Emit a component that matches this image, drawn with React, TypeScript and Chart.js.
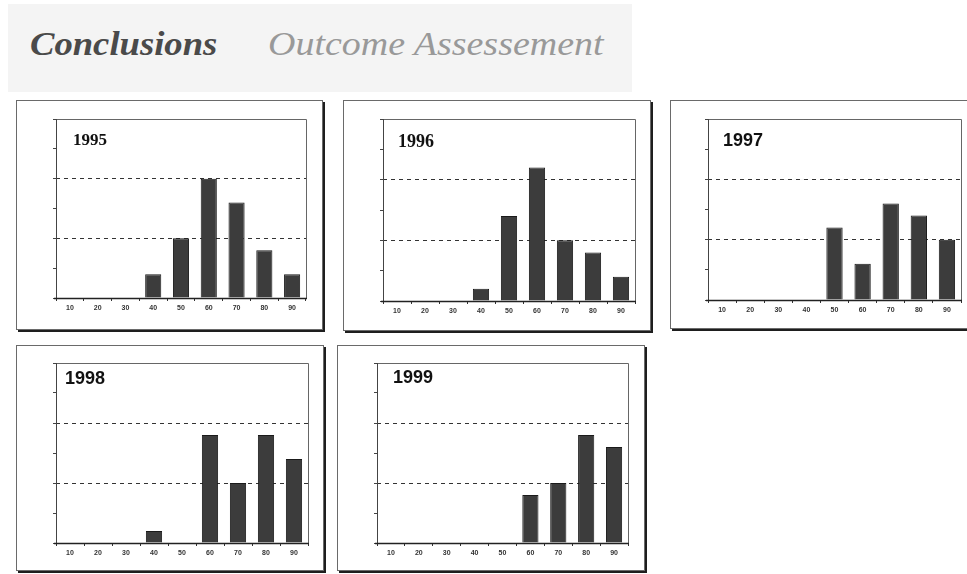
import React, { useEffect, useRef } from "react";
import { Chart, registerables } from "chart.js";
Chart.register(...registerables);

// ---- data ----
const categories = ["10", "20", "30", "40", "50", "60", "70", "80", "90"];
const years = ["1995", "1996", "1997", "1998", "1999"];
const values1995 = [0, 0, 0, 4, 10, 20, 16, 8, 4];
const values1996 = [0, 0, 0, 2, 14, 22, 10, 8, 4];
const values1997 = [0, 0, 0, 0, 12, 6, 16, 14, 10];
const values1998 = [0, 0, 0, 2, 0, 18, 10, 18, 14];
const values1999 = [0, 0, 0, 0, 0, 8, 10, 18, 16];
const seriesByYear = [values1995, values1996, values1997, values1998, values1999];
const yMin = 0;
const yMax = 30;
const yStep = 5;
const dashedAt = [10, 20];
const headerMain = "Conclusions";
const headerSub = "Outcome Assessement";

// ---- layout (page px) ----
type Layout = {
  box: [number, number, number, number];
  plot: [number, number, number, number];
  label: [number, number];
  font: string;
};
const layouts: Layout[] = [
  { box: [16, 100, 307, 230], plot: [56, 119, 306, 298], label: [73, 145], font: "bold 17px 'Liberation Serif', serif" },
  { box: [343, 100, 308, 231], plot: [383, 119, 635, 301], label: [398, 147], font: "bold 18px 'Liberation Serif', serif" },
  { box: [670, 100, 310, 229], plot: [708, 119, 961, 300], label: [723, 146], font: "bold 18px 'Liberation Sans', Arial, sans-serif" },
  { box: [16, 345, 308, 226], plot: [56, 363, 308, 543], label: [65, 384], font: "bold 18px 'Liberation Sans', Arial, sans-serif" },
  { box: [337, 345, 308, 226], plot: [377, 363, 628, 543], label: [393, 383], font: "bold 18px 'Liberation Sans', Arial, sans-serif" },
];
const XAXIS_H = 18;

function MiniChart({ idx }: { idx: number }) {
  const ref = useRef<HTMLCanvasElement | null>(null);
  const lay = layouts[idx];
  const [bx, by, bw, bh] = lay.box;
  const cw = bw - 2;
  const ch = bh - 2;
  useEffect(() => {
    if (!ref.current) return;
    const [pl, pt, pr, pb] = lay.plot;
    const ox = bx + 1;
    const oy = by + 1;
    const padding = {
      left: pl - ox,
      top: pt - oy,
      right: cw - (pr - ox),
      bottom: ch - (pb - oy) - XAXIS_H,
    };
    const framePlugin = {
      id: "frame" + idx,
      afterDatasetsDraw(chart: any) {
        const { ctx, chartArea: a } = chart;
        ctx.save();
        ctx.lineWidth = 1;
        ctx.strokeStyle = "#666";
        ctx.beginPath();
        ctx.moveTo(a.left, a.top + 0.5);
        ctx.lineTo(a.right + 0.5, a.top + 0.5);
        ctx.lineTo(a.right + 0.5, a.bottom);
        ctx.stroke();
        ctx.strokeStyle = "#444";
        ctx.beginPath();
        ctx.moveTo(a.left + 0.5, a.top);
        ctx.lineTo(a.left + 0.5, a.bottom);
        ctx.stroke();
        ctx.strokeStyle = "#222";
        ctx.lineWidth = 1.5;
        ctx.beginPath();
        ctx.moveTo(a.left - 2, a.bottom + 0.5);
        ctx.lineTo(a.right + 1, a.bottom + 0.5);
        ctx.stroke();
        ctx.fillStyle = "#111";
        ctx.font = lay.font;
        ctx.textBaseline = "alphabetic";
        ctx.textAlign = "left";
        ctx.fillText(years[idx], lay.label[0] - ox, lay.label[1] - oy);
        ctx.restore();
      },
    };
    const chart = new Chart(ref.current, {
      type: "bar",
      data: {
        labels: categories,
        datasets: [
          {
            data: seriesByYear[idx],
            backgroundColor: "#3c3c3c",
            borderColor: "#1a1a1a",
            borderWidth: 1,
            borderSkipped: "start",
            barPercentage: 0.58,
            categoryPercentage: 1,
          },
        ],
      },
      options: {
        responsive: false,
        animation: false,
        devicePixelRatio: 1,
        layout: { padding },
        plugins: { legend: { display: false }, tooltip: { enabled: false }, title: { display: false } },
        scales: {
          x: {
            afterFit: (s: any) => {
              s.height = XAXIS_H;
            },
            grid: {
              color: "transparent",
              drawOnChartArea: false,
              tickColor: "#333",
              tickLength: 3,
              offset: true,
            },
            border: { display: false },
            ticks: {
              autoSkip: false,
              maxRotation: 0,
              minRotation: 0,
              padding: 3,
              color: "#333",
              font: { size: 7, weight: "bold", family: "'Liberation Sans', Arial, sans-serif" },
            },
          },
          y: {
            min: yMin,
            max: yMax,
            afterFit: (s: any) => {
              s.width = 0;
            },
            grid: {
              color: (c: any) => (c.tick && dashedAt.includes(c.tick.value) ? "#333" : "transparent"),
              tickColor: "#444",
              tickLength: 3,
              lineWidth: 1,
            },
            border: { display: false, dash: [4, 4] },
            ticks: { display: false, stepSize: yStep },
          },
        },
      },
      plugins: [framePlugin],
    });
    return () => chart.destroy();
  }, [idx]);
  return (
    <div
      style={{
        position: "absolute",
        left: bx,
        top: by,
        width: bw,
        height: bh,
        boxSizing: "border-box",
        border: "1px solid #6a6a6a",
        boxShadow: "2px 2px 0 #1e1e1e",
        background: "#fff",
      }}
    >
      <canvas ref={ref} width={cw} height={ch} style={{ position: "absolute", left: 0, top: 0, width: cw, height: ch }} />
    </div>
  );
}

export default function App() {
  return (
    <div style={{ position: "absolute", left: 0, top: 0, width: 967, height: 574, overflow: "hidden", background: "#fff" }}>
      <div style={{ position: "absolute", left: 8, top: 4, width: 624, height: 88, background: "#f4f4f4" }} />
      <div
        style={{
          position: "absolute",
          left: 30,
          top: 28,
          fontFamily: "'Liberation Serif', 'Times New Roman', serif",
          fontSize: 33,
          lineHeight: 1,
          fontStyle: "italic",
          fontWeight: "bold",
          color: "#4a4a4a",
          whiteSpace: "nowrap",
          transform: "scaleX(1.11)",
          transformOrigin: "left top",
        }}
      >
        {headerMain}
      </div>
      <div
        style={{
          position: "absolute",
          left: 268,
          top: 28,
          fontFamily: "'Liberation Serif', 'Times New Roman', serif",
          fontSize: 33,
          lineHeight: 1,
          fontStyle: "italic",
          fontWeight: "normal",
          color: "#999",
          whiteSpace: "nowrap",
          transform: "scaleX(1.15)",
          transformOrigin: "left top",
        }}
      >
        {headerSub}
      </div>
      {layouts.map((_, i) => (
        <MiniChart key={i} idx={i} />
      ))}
    </div>
  );
}
